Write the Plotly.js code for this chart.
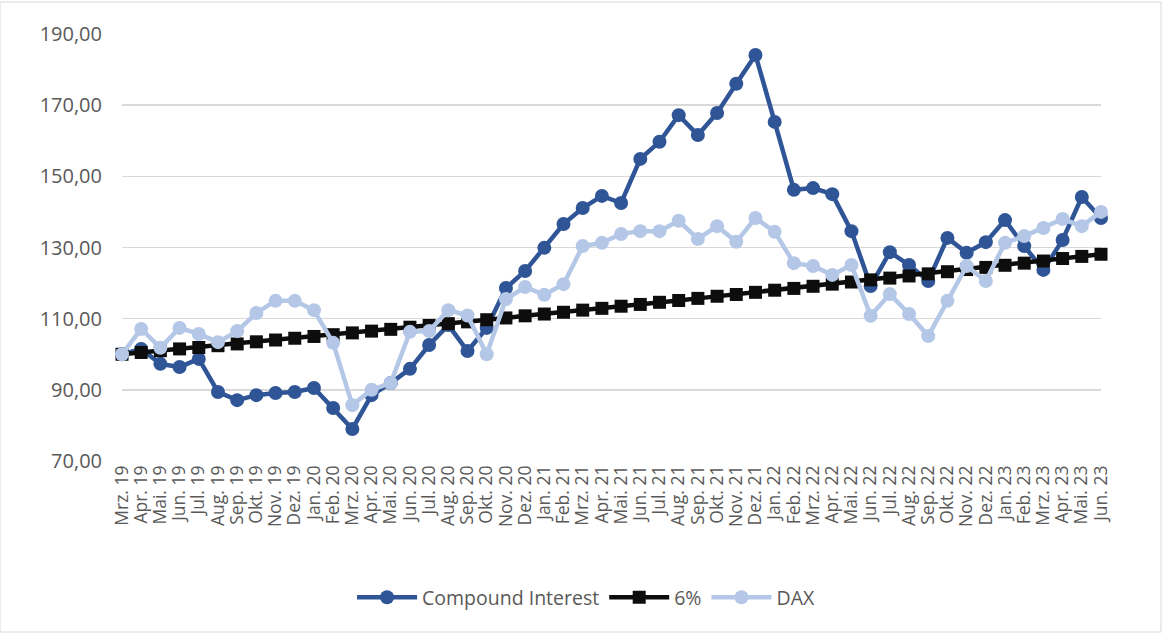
<!DOCTYPE html>
<html>
<head>
<meta charset="utf-8">
<script src="https://cdn.plot.ly/plotly-3.0.1.min.js"></script>
<style>html,body{margin:0;padding:0;background:#fff;}#chart{width:1163px;height:634px;}</style>
</head>
<body>
<div id="chart"></div>
<script>
const categories = ["Mrz. 19","Apr. 19","Mai. 19","Jun. 19","Jul. 19","Aug. 19","Sep. 19","Okt. 19","Nov. 19","Dez. 19",
  "Jan. 20","Feb. 20","Mrz. 20","Apr. 20","Mai. 20","Jun. 20","Jul. 20","Aug. 20","Sep. 20","Okt. 20","Nov. 20","Dez. 20",
  "Jan. 21","Feb. 21","Mrz. 21","Apr. 21","Mai. 21","Jun. 21","Jul. 21","Aug. 21","Sep. 21","Okt. 21","Nov. 21","Dez. 21",
  "Jan. 22","Feb. 22","Mrz. 22","Apr. 22","Mai. 22","Jun. 22","Jul. 22","Aug. 22","Sep. 22","Okt. 22","Nov. 22","Dez. 22",
  "Jan. 23","Feb. 23","Mrz. 23","Apr. 23","Mai. 23","Jun. 23"];

const compoundInterest = [100.0,101.5,97.3,96.4,98.7,89.4,87.1,88.5,89.1,89.4,
  90.5,84.9,79.0,88.5,91.9,95.9,102.6,108.2,100.9,107.4,118.6,123.4,
  129.9,136.6,141.1,144.5,142.5,154.9,159.7,167.2,161.6,167.8,176.0,184.1,
  165.3,146.2,146.7,145.0,134.6,119.2,128.7,125.1,120.6,132.7,128.5,131.5,
  137.7,130.4,123.7,132.1,144.2,138.3];

const sixPercent = [100.0,100.5,101.0,101.5,101.9,102.4,102.9,103.5,104.0,104.5,
  105.0,105.5,106.0,106.5,107.0,107.6,108.1,108.6,109.1,109.7,110.2,110.8,
  111.3,111.8,112.4,112.9,113.5,114.0,114.6,115.1,115.7,116.3,116.8,117.4,
  118.0,118.5,119.1,119.7,120.3,120.9,121.4,122.0,122.6,123.2,123.8,124.4,
  125.0,125.6,126.2,126.9,127.5,128.1];

const dax = [100.0,107.1,101.8,107.4,105.7,103.4,106.5,111.6,115.0,115.0,
  112.4,103.2,85.7,90.0,91.9,106.3,106.5,112.4,110.9,100.0,115.5,118.9,
  116.7,119.7,130.4,131.3,133.8,134.6,134.6,137.5,132.4,136.0,131.6,138.3,
  134.4,125.6,124.8,122.3,125.1,110.8,116.9,111.3,105.1,115.0,124.8,120.6,
  131.3,133.2,135.5,138.0,136.0,140.0];

const yTicks = [70,90,110,130,150,170,190];

const idx = categories.map((_, i) => i);
const traces = [
  {name:"Compound Interest", x: idx, y: compoundInterest, type:"scatter", mode:"lines+markers",
   line:{color:"#2F5597", width:4.5}, marker:{color:"#2F5597", size:14, symbol:"circle"}, cliponaxis:false},
  {name:"6%", x: idx, y: sixPercent, type:"scatter", mode:"lines+markers",
   line:{color:"#0D0D0D", width:4.5}, marker:{color:"#0D0D0D", size:13, symbol:"square"}, cliponaxis:false},
  {name:"DAX", x: idx, y: dax, type:"scatter", mode:"lines+markers",
   line:{color:"#B4C7E7", width:4.5}, marker:{color:"#B4C7E7", size:14, symbol:"circle"}, cliponaxis:false}
];

const layout = {
  width:1163, height:634,
  margin:{l:122, r:62, t:34, b:173},
  paper_bgcolor:"#fff", plot_bgcolor:"#fff",
  separators:",.",
  font:{family:"Open Sans, Noto Sans, sans-serif", color:"#595959"},
  showlegend:true,
  legend:{orientation:"h", x:0.474, xanchor:"center", y:-0.32, yanchor:"middle",
    font:{size:19.5, color:"#595959"}, itemwidth:60, traceorder:"normal"},
  xaxis:{type:"linear", range:[0,51], tickmode:"array", tickvals:idx, ticktext:categories,
    tickangle:-90, tickfont:{size:17.5, color:"#595959"}, showgrid:false, zeroline:false,
    showline:false, ticks:"", fixedrange:true},
  yaxis:{range:[70,190], tickmode:"array", tickvals:yTicks, tickformat:".2f",
    tickfont:{size:20, color:"#595959"}, gridcolor:"#D9D9D9", gridwidth:1.5,
    zeroline:false, showline:false, ticks:"", ticklabelstandoff:19},
  shapes:[{type:"rect", xref:"paper", yref:"paper", x0:-122/979, x1:(979+60)/979, y0:-171/427, y1:(427+32)/427,
    line:{color:"#D9D9D9", width:1}}]
};

Plotly.newPlot("chart", traces, layout, {displayModeBar:false, staticPlot:true});
</script>
</body>
</html>
